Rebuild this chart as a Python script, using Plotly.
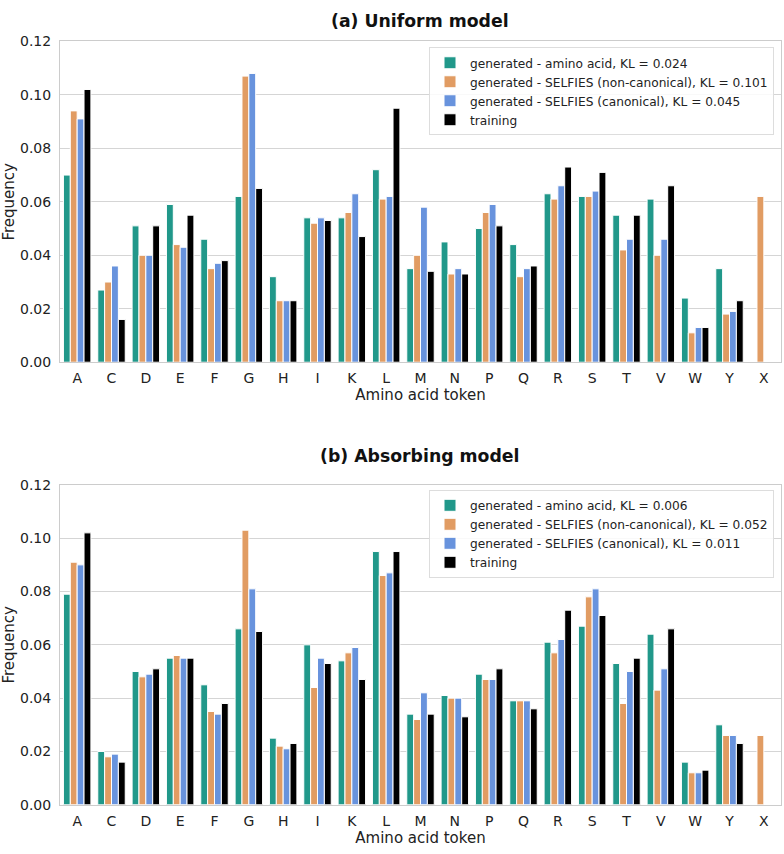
import plotly.graph_objects as go

tokens = ["A","C","D","E","F","G","H","I","K","L","M","N","P","Q","R","S","T","V","W","Y","X"]

series_names_a = [
    "generated - amino acid, KL = 0.024",
    "generated - SELFIES (non-canonical), KL = 0.101",
    "generated - SELFIES (canonical), KL = 0.045",
    "training",
]
series_names_b = [
    "generated - amino acid, KL = 0.006",
    "generated - SELFIES (non-canonical), KL = 0.052",
    "generated - SELFIES (canonical), KL = 0.011",
    "training",
]

# (a) Uniform model
uni_aa = [0.070,0.027,0.051,0.059,0.046,0.062,0.032,0.054,0.054,0.072,0.035,0.045,0.050,0.044,0.063,0.062,0.055,0.061,0.024,0.035,0.0]
uni_noncan = [0.094,0.030,0.040,0.044,0.035,0.107,0.023,0.052,0.056,0.061,0.040,0.033,0.056,0.032,0.061,0.062,0.042,0.040,0.011,0.018,0.062]
uni_can = [0.091,0.036,0.040,0.043,0.037,0.108,0.023,0.054,0.063,0.062,0.058,0.035,0.059,0.035,0.066,0.064,0.046,0.046,0.013,0.019,0.0]
training = [0.102,0.016,0.051,0.055,0.038,0.065,0.023,0.053,0.047,0.095,0.034,0.033,0.051,0.036,0.073,0.071,0.055,0.066,0.013,0.023,0.0]

# (b) Absorbing model
abs_aa = [0.079,0.020,0.050,0.055,0.045,0.066,0.025,0.060,0.054,0.095,0.034,0.041,0.049,0.039,0.061,0.067,0.053,0.064,0.016,0.030,0.0]
abs_noncan = [0.091,0.018,0.048,0.056,0.035,0.103,0.022,0.044,0.057,0.086,0.032,0.040,0.047,0.039,0.057,0.078,0.038,0.043,0.012,0.026,0.026]
abs_can = [0.090,0.019,0.049,0.055,0.034,0.081,0.021,0.055,0.059,0.087,0.042,0.040,0.047,0.039,0.062,0.081,0.050,0.051,0.012,0.026,0.0]

colors = ["#21988a", "#e19c63", "#6893dd", "#000000"]

fig = go.Figure()

def add_group(names, vals, xa, ya, legend):
    for name, v, c in zip(names, vals, colors):
        fig.add_trace(go.Bar(
            x=tokens, y=v, name=name, marker=dict(color=c, line=dict(color="white", width=1)),
            xaxis=xa, yaxis=ya, legend=legend, offsetgroup=name + legend,
        ))

add_group(series_names_a, [uni_aa, uni_noncan, uni_can, training], "x", "y", "legend")
add_group(series_names_b, [abs_aa, abs_noncan, abs_can, training], "x2", "y2", "legend2")

font = "DejaVu Sans"
axis_common = dict(
    showline=True, mirror=True, linecolor="#cccccc", linewidth=1,
    ticks="", tickfont=dict(size=14, color="#222222", family=font),
)
xd = [60/784, 781/784]
xtitle = dict(text="Amino acid token", font=dict(size=15), standoff=1)
ytitle = dict(text="Frequency", font=dict(size=15), standoff=4)
leg = dict(x=774/784, xanchor="right", yanchor="top",
           bgcolor="rgba(255,255,255,0.85)", bordercolor="#dddddd", borderwidth=1,
           font=dict(size=12.2, color="#222222"), tracegroupgap=0, itemwidth=30)
xax = dict(range=[-0.5, 20.5], showgrid=False, ticklabelstandoff=3,
           categoryorder="array", categoryarray=tokens, title=xtitle, **axis_common)
yax = dict(range=[0, 0.12], dtick=0.02, tickformat=".2f", ticklabelstandoff=5,
           showgrid=True, gridcolor="#d5d5d5", gridwidth=1, zeroline=False, title=ytitle, **axis_common)
fig.update_layout(
    width=784, height=854, margin=dict(l=0, r=0, t=0, b=0),
    paper_bgcolor="white", plot_bgcolor="white",
    barmode="group", bargap=0.2, bargroupgap=0,
    font=dict(family=font, color="#222222"),
    xaxis=dict(domain=xd, anchor="y", **xax),
    yaxis=dict(domain=[1-361/854, 1-34/854], anchor="x", **yax),
    xaxis2=dict(domain=xd, anchor="y2", **xax),
    yaxis2=dict(domain=[1-812/854, 1-486/854], anchor="x2", **yax),
    legend=dict(y=1-40/854, **leg),
    legend2=dict(y=1-491/854, **leg),
    annotations=[
        dict(text="<b>(a) Uniform model</b>", x=(60+781)/2/784, y=1-13/854, xref="paper", yref="paper",
             showarrow=False, font=dict(size=17.3, color="#111111"), xanchor="center", yanchor="middle"),
        dict(text="<b>(b) Absorbing model</b>", x=(60+781)/2/784, y=1-457/854, xref="paper", yref="paper",
             showarrow=False, font=dict(size=17.3, color="#111111"), xanchor="center", yanchor="middle"),
    ],
)

fig.write_html("out.html")
